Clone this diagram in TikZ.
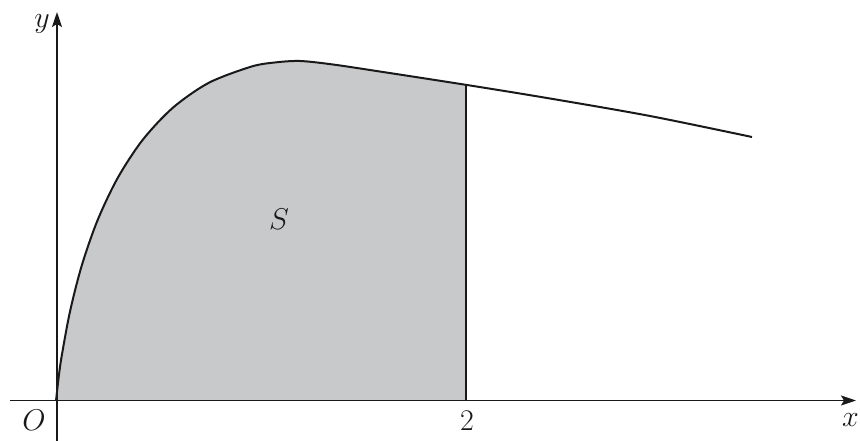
\documentclass[tikz,border=0pt]{standalone}
\usepackage{fix-cm}
\usetikzlibrary{arrows.meta}
\definecolor{regiongray}{RGB}{200,201,203}
\definecolor{ink}{RGB}{25,25,25}
\begin{document}
\begin{tikzpicture}[x=1pt,y=-1pt,
  axis/.style={draw=ink,line width=1.8pt,-{Stealth[length=15pt,width=10pt,inset=3pt]}},
  curveline/.style={draw=ink,line width=2pt,line join=round},
  lab/.style={font=\fontsize{30}{36}\selectfont,inner sep=0pt,text=ink},
  num/.style={font=\fontsize{30}{36}\selectfont,inner sep=0pt,text=ink}]
\useasboundingbox (0,0) rectangle (860,441);
\def\curvepts{(56,401) (58.4,379.5) (61.5,357.2) (70,311.5) (81.8,265.4) (97.5,220.4) (117.6,178.1) (142.5,140.1) (172.8,107.8) (208.8,82.8) (251,66.7) (274.6,62.5) (300,61) (333,64.5) (383,72) (467,85) (550,98.5) (650,116) (752,137)}
% shaded region S
\begin{scope}
  \clip (56,0) rectangle (466,400);
  \fill[regiongray] plot[smooth,tension=0.5] coordinates {\curvepts} -- (752,401) -- cycle;
\end{scope}
% named points
\coordinate (ybot) at (57,441);
\coordinate (ytop) at (57,12);
\coordinate (xleft) at (10,400.5);
\coordinate (xright) at (856,400.5);
\coordinate (top2) at (466,85);
\coordinate (base2) at (466,400);
% curve
\draw[curveline] plot[smooth,tension=0.5] coordinates {\curvepts};
% vertical line at x=2
\draw[draw=ink,line width=1.8pt] (top2) -- (base2);
% axes
\draw[axis] (xleft) -- (xright);
\draw[axis] (ybot) -- (ytop);
% labels
\node[lab] (ylab) at (42,24) {$y$};
\node[lab] (olab) at (34,420) {$O$};
\node[num] (twolab) at (467,421) {2};
\node[lab,anchor=east] (xlab) at (859,420) {$x$};
\node[lab] (slab) at (279,219) {$S$};
\end{tikzpicture}
\end{document}
